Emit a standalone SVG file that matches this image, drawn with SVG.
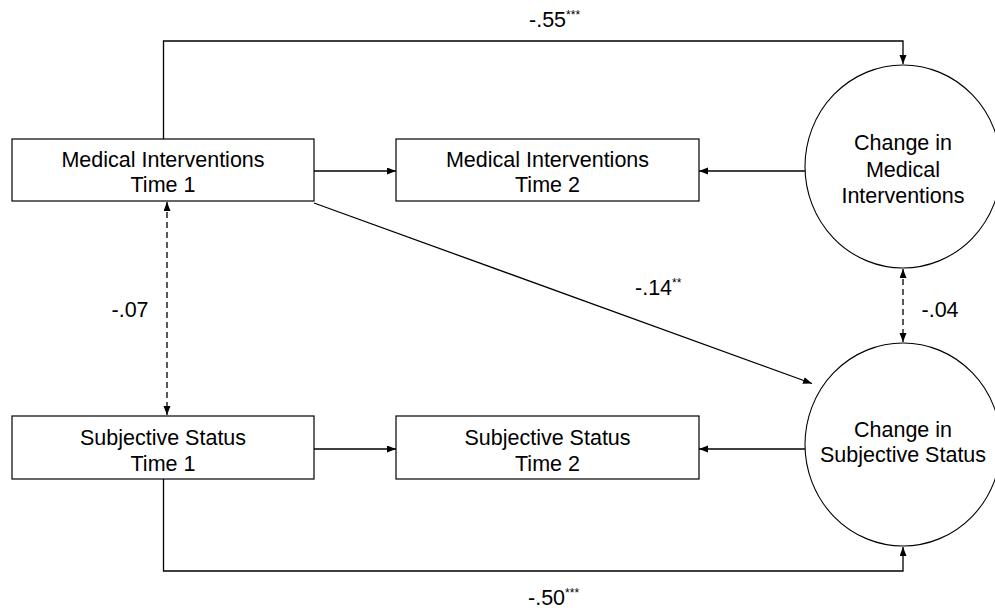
<svg xmlns="http://www.w3.org/2000/svg" width="995" height="611" viewBox="0 0 995 611">
  <style>
    .box { fill: #fff; stroke: #000; stroke-width: 1.2; }
    .latent { fill: #fff; stroke: #000; stroke-width: 1.1; }
    .lbl { font-family: "Liberation Sans", Arial, sans-serif; font-size: 21.5px; fill: #000; text-anchor: middle; }
    .coef { font-family: "Liberation Sans", Arial, sans-serif; font-size: 21.5px; fill: #000; }
    .sig { font-size: 12px; }
    .path { fill: none; stroke: #000; stroke-width: 1.3; }
    .dash { stroke-dasharray: 6 4; }
  </style>
  <defs>
    <marker id="head" markerUnits="userSpaceOnUse" markerWidth="10" markerHeight="8" refX="9" refY="3.5" orient="auto-start-reverse">
      <path d="M0,0 L9,3.5 L0,7 z" fill="#000"/>
    </marker>
  </defs>

  <rect width="995" height="611" fill="#fff"/>

  <!-- paths and correlations -->
  <g id="connectors">
    <polyline class="path" points="163.5,139 163.5,41 903,41 903,64" marker-end="url(#head)"/>
    <polyline class="path" points="163.5,479 163.5,571 903,571 903,547" marker-end="url(#head)"/>
    <line class="path" x1="314" y1="171" x2="396" y2="171" marker-end="url(#head)"/>
    <line class="path" x1="805" y1="171" x2="699" y2="171" marker-end="url(#head)"/>
    <line class="path" x1="314" y1="449" x2="396" y2="449" marker-end="url(#head)"/>
    <line class="path" x1="805" y1="449" x2="699" y2="449" marker-end="url(#head)"/>
    <line class="path" x1="314" y1="203" x2="812" y2="383.5" marker-end="url(#head)"/>
    <line class="path dash" x1="167" y1="202" x2="167" y2="415" marker-start="url(#head)" marker-end="url(#head)"/>
    <line class="path dash" x1="903" y1="269" x2="903" y2="342" marker-start="url(#head)" marker-end="url(#head)"/>

    <text class="coef" x="529" y="26.7">-.55<tspan class="sig" dy="-8">***</tspan></text>
    <text class="coef" x="635" y="295">-.14<tspan class="sig" dy="-8">**</tspan></text>
    <text class="coef" x="111.5" y="317.3">-.07</text>
    <text class="coef" x="921.5" y="316.7">-.04</text>
    <text class="coef" x="528" y="605">-.50<tspan class="sig" dy="-8">***</tspan></text>
  </g>

  <g id="mi-t1">
    <rect class="box" x="12" y="139" width="302" height="62"/>
    <text class="lbl" x="163" y="166.7">Medical Interventions</text>
    <text class="lbl" x="163" y="192.3">Time 1</text>
  </g>

  <g id="mi-t2">
    <rect class="box" x="396" y="139" width="303" height="62"/>
    <text class="lbl" x="547.5" y="166.7">Medical Interventions</text>
    <text class="lbl" x="547.5" y="192.3">Time 2</text>
  </g>

  <g id="ss-t1">
    <rect class="box" x="12" y="416" width="302" height="63"/>
    <text class="lbl" x="163" y="445">Subjective Status</text>
    <text class="lbl" x="163" y="471">Time 1</text>
  </g>

  <g id="ss-t2">
    <rect class="box" x="396" y="416" width="303" height="63"/>
    <text class="lbl" x="547.5" y="445">Subjective Status</text>
    <text class="lbl" x="547.5" y="471">Time 2</text>
  </g>

  <g id="change-mi">
    <ellipse class="latent" cx="903" cy="166.5" rx="98" ry="101.5"/>
    <text class="lbl" x="903" y="150">Change in</text>
    <text class="lbl" x="903" y="176.7">Medical</text>
    <text class="lbl" x="903" y="203.3">Interventions</text>
  </g>

  <g id="change-ss">
    <ellipse class="latent" cx="903" cy="444.5" rx="98" ry="101.5"/>
    <text class="lbl" x="903" y="437.3">Change in</text>
    <text class="lbl" x="903" y="462">Subjective Status</text>
  </g>
</svg>
